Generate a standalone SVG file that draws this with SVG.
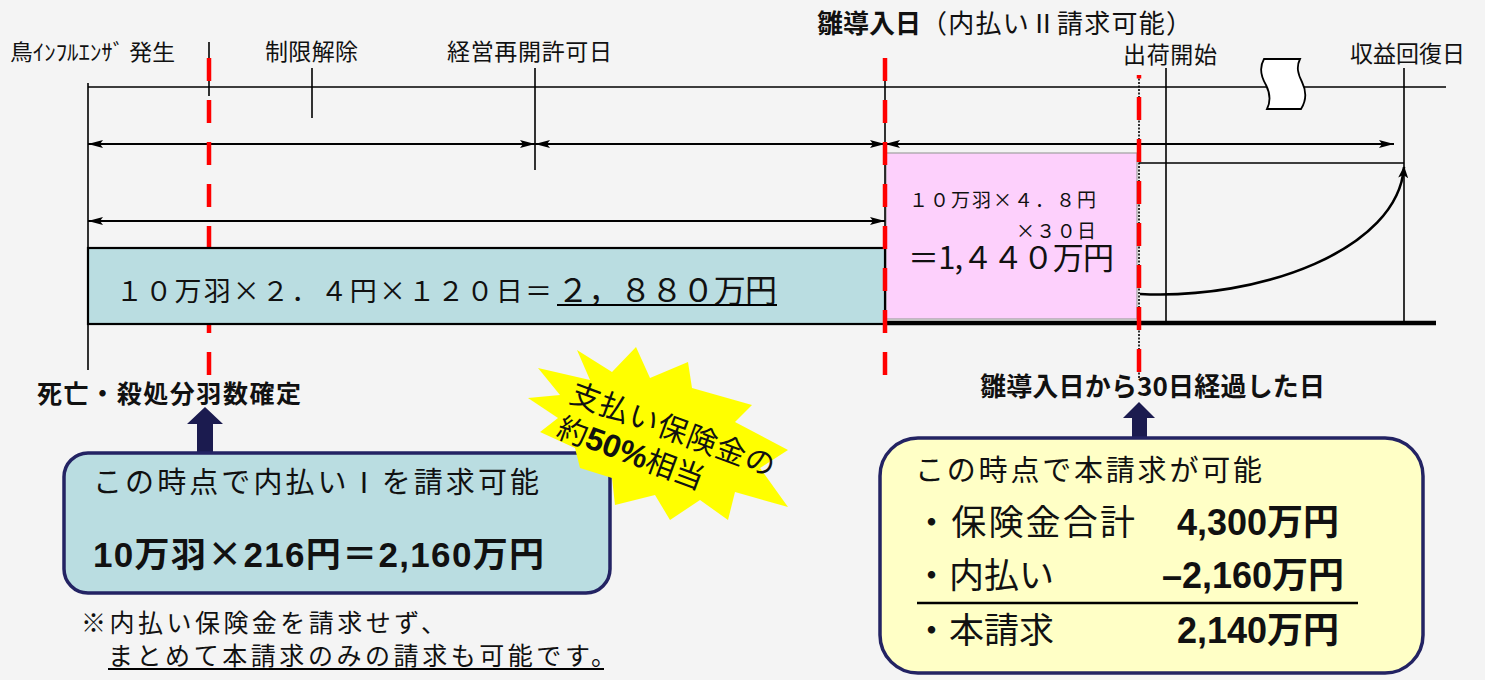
<svg xmlns="http://www.w3.org/2000/svg" width="1485" height="680" viewBox="0 0 1485 680">
<defs>
<style>
.t{font-family:"Noto Sans CJK JP","Noto Sans",sans-serif;fill:#111}
.b{font-weight:bold}
.n{font-family:"Liberation Sans","Noto Sans CJK JP",sans-serif;font-weight:bold}
.ln{stroke:#000;stroke-width:1.6;fill:none}
.red{stroke:#ff0000;stroke-width:4.5;stroke-dasharray:23 19;fill:none}
.dim{stroke:#000;stroke-width:1.8;fill:none;marker-start:url(#ah);marker-end:url(#ah)}
.nav{fill:#1b1b4f}
</style>
<marker id="ah" viewBox="0 0 15 8" refX="15" refY="4" markerWidth="15" markerHeight="8" markerUnits="userSpaceOnUse" orient="auto-start-reverse">
<path d="M0,0 L15,4 L0,8 L3,4 Z" fill="#000"/>
</marker>
<marker id="ah2" viewBox="0 0 12 10" refX="11" refY="5" markerWidth="12" markerHeight="10" markerUnits="userSpaceOnUse" orient="auto">
<path d="M0,0 L12,5 L0,10 L3,5 Z" fill="#000"/>
</marker>
</defs>
<rect x="0" y="0" width="1485" height="680" fill="#f4f4f4"/>

<g id="timeline">
<line class="ln" x1="88" y1="87" x2="1446" y2="87" stroke-width="2"/>
<path d="M1264,59 L1300,59 C1296,67 1298,74 1302,82 C1307,92 1306,101 1301,109 L1267,109 C1271,101 1270,93 1266,85 C1260,75 1260,66 1264,59 Z" fill="#fff" stroke="#000" stroke-width="1.8"/>
</g>

<g id="boxes">
<rect id="box-1440" x="886" y="153" width="251" height="166" fill="#fdd0fc" stroke="#a0a0a0" stroke-width="1.2"/>
</g>

<g id="connectors">
<line class="ln" x1="88" y1="83" x2="88" y2="370"/>
<line class="ln" x1="209" y1="42" x2="209" y2="96"/>
<line class="ln" x1="312" y1="68" x2="312" y2="118"/>
<line class="ln" x1="535" y1="68" x2="535" y2="170"/>
<line class="ln" x1="885" y1="58" x2="885" y2="333"/>
<line class="ln" x1="1139" y1="75" x2="1139" y2="378" stroke-dasharray="2 1.5" stroke-width="1.2"/>
<line class="ln" x1="1166" y1="68" x2="1166" y2="322"/>
<line class="ln" x1="1404" y1="68" x2="1404" y2="322"/>
<line class="dim" x1="88" y1="144" x2="535" y2="144"/>
<line class="dim" x1="535" y1="144" x2="885" y2="144"/>
<line class="dim" x1="885" y1="144" x2="1394" y2="144"/>
<line class="dim" x1="88" y1="221" x2="885" y2="221"/>
<line class="ln" x1="1139" y1="163" x2="1404" y2="163"/>
<path d="M1140,294 C1260,300 1398,250 1404,167" fill="none" stroke="#000" stroke-width="2.6" marker-end="url(#ah2)"/>
<line x1="886" y1="323" x2="1436" y2="323" stroke="#000" stroke-width="4.5"/>
<line class="red" x1="209" y1="58" x2="209" y2="376"/>
<path class="nav" d="M197,453 L197,424 L187,424 L205,407 L223,424 L213,424 L213,453 Z"/>
<path class="nav" d="M1132,439 L1132,418 L1123,418 L1139,402 L1155,418 L1147,418 L1147,439 Z"/>
</g>

<g id="node-2880">
<rect x="88" y="248" width="797" height="76" fill="#badde1" stroke="#000" stroke-width="2.2"/>
<text class="t" x="116" y="301" font-size="27" textLength="436">１０万羽×２．４円×１２０日＝</text>
<text class="t" x="557" y="302" font-size="32" textLength="220">２，８８０万円</text>
<line x1="557" y1="305" x2="777" y2="305" stroke="#000" stroke-width="2"/>
</g>

<g id="red-lines">
<line class="red" x1="885" y1="58" x2="885" y2="376"/>
<line class="red" x1="1139" y1="97" x2="1139" y2="376"/>
<line x1="1139" y1="75" x2="1139" y2="78.5" stroke="#ff0000" stroke-width="4.5"/>
</g>

<g id="labels">
<text class="t" x="10" y="60" font-size="22" textLength="165" lengthAdjust="spacingAndGlyphs">鳥ｲﾝﾌﾙｴﾝｻﾞ 発生</text>
<text class="t" x="265" y="60" font-size="23" textLength="93">制限解除</text>
<text class="t" x="447" y="60" font-size="23" textLength="165">経営再開許可日</text>
<text class="t b" x="817" y="33" font-size="26" textLength="104">雛導入日</text>
<text class="t" x="921" y="33" font-size="26" textLength="271">（内払いⅡ請求可能）</text>
<text class="t" x="1123" y="63" font-size="23" textLength="94">出荷開始</text>
<text class="t" x="1350" y="62" font-size="23" textLength="115">収益回復日</text>
<text class="t b" x="37" y="403" font-size="25" textLength="264">死亡・殺処分羽数確定</text>
<text class="t b" x="980" y="396" font-size="26" textLength="345">雛導入日から30日経過した日</text>
</g>

<g id="node-1440">
<text class="t" x="909" y="207" font-size="19" textLength="187">１０万羽×４．８円</text>
<text class="t" x="1016" y="238" font-size="19" textLength="80">×３０日</text>
<text class="t" x="908" y="269" font-size="31" textLength="206">＝1,４４０万円</text>
</g>

<g id="node-naibarai1">
<rect x="64" y="453" width="546" height="140" rx="24" fill="#badde1" stroke="#232363" stroke-width="3.5"/>
<text class="t" x="93" y="493" font-size="29" textLength="446">この時点で内払いⅠを請求可能</text>
<text class="t b" x="93" y="567" font-size="35" textLength="451"><tspan class="n">10</tspan>万羽×<tspan class="n">216</tspan>円＝<tspan class="n">2,160</tspan>万円</text>
</g>

<g id="node-star">
<polygon points="538,368 590,380 577,350 612,372 636,347 650,378 688,362 692,388 752,405 735,422 788,450 760,468 788,507 735,492 728,520 700,500 670,520 655,495 615,505 612,478 580,468 575,448 540,432 558,418 528,398 560,395" fill="#ffff00"/>
<g transform="rotate(20.4 673 429)">
<text class="t" x="565" y="440" font-size="30" letter-spacing="1">支払い保険金の</text>
<text class="t" x="565" y="477" font-size="30">約<tspan class="n" font-size="32">50%</tspan>相当</text>
</g>
</g>

<g id="note">
<text class="t" x="81" y="632" font-size="25" textLength="365">※内払い保険金を請求せず、</text>
<text class="t" x="108" y="665" font-size="25" textLength="508">まとめて本請求のみの請求も可能です。</text>
<line x1="108" y1="669" x2="604" y2="669" stroke="#000" stroke-width="2"/>
</g>

<g id="node-honseikyu">
<rect x="880" y="438" width="543" height="235" rx="38" fill="#ffffc6" stroke="#232363" stroke-width="3.5"/>
<text class="t" x="915" y="481" font-size="29" textLength="347">この時点で本請求が可能</text>
<text class="t" x="914" y="535" font-size="35" textLength="221">・保険金合計</text>
<text class="t n" x="1339" y="535" font-size="36" text-anchor="end">4,300<tspan font-family="Noto Sans CJK JP">万円</tspan></text>
<text class="t" x="914" y="588" font-size="35">・内払い</text>
<text class="t n" x="1344" y="588" font-size="36" text-anchor="end">–2,160<tspan font-family="Noto Sans CJK JP">万円</tspan></text>
<line x1="917" y1="603" x2="1358" y2="603" stroke="#000" stroke-width="2.6"/>
<text class="t" x="914" y="643" font-size="35">・本請求</text>
<text class="t n" x="1339" y="643" font-size="36" text-anchor="end">2,140<tspan font-family="Noto Sans CJK JP">万円</tspan></text>
</g>
</svg>
